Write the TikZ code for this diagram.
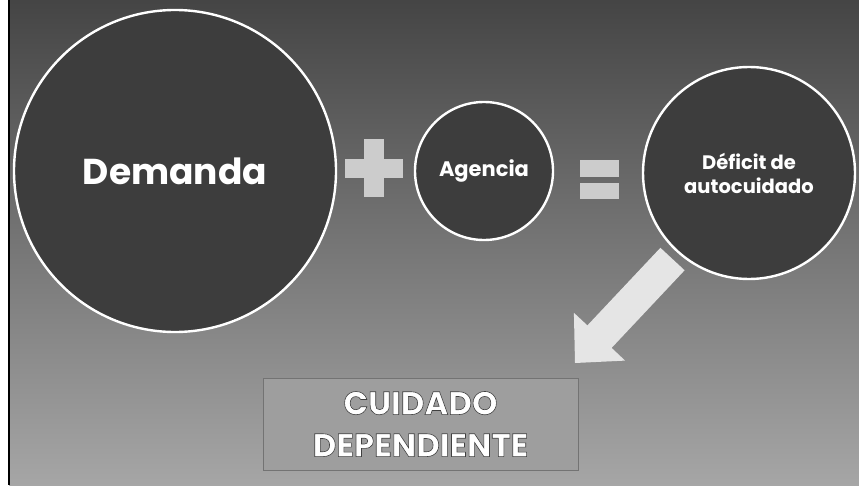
\documentclass[tikz,border=0pt]{standalone}
\usepackage{fontspec}
\setmainfont{Poppins}
\newcommand{\outlinedtext}[1]{\special{pdf:literal 2 Tr 0.25 G 0.6 w}#1\special{pdf:literal 0 Tr}}
\begin{document}
\begin{tikzpicture}[x=1pt,y=-1pt,
  bubble/.style={circle,draw=white,line width=2.4pt,fill=black!76,inner sep=0pt,minimum size=#1,text=white,align=center},
  symb/.style={fill=black!20,draw=none},
  outcome/.style={draw=black!55,line width=0.8pt,fill=black!38,minimum width=315pt,minimum height=92pt,inner sep=0pt,text=white,align=center},
  bigarrow/.style={fill=black!10,draw=none}]
\useasboundingbox (0,0) rectangle (859,487);
\fill[white] (0,0) rectangle (859,487);
\shade[top color=black!73,bottom color=black!35] (9,0) rectangle (859,485);
\draw[black,line width=1.6pt] (9,0) -- (9,485);
% circles
\node[bubble=322pt,font=\fontsize{36}{40}\selectfont\bfseries] (dem) at (175,171) {Demanda};
\node[bubble=138pt,font=\fontsize{21}{24}\selectfont\bfseries] (age) at (484,171) {Agencia};
\node[bubble=212pt,font=\fontsize{19.5}{24}\selectfont\bfseries] (def) at (749,173) {Déficit de\\autocuidado};
% plus sign
\fill[symb] (345,159) rectangle (403,178);
\fill[symb] (364,139) rectangle (384,197);
% equals sign
\fill[symb] (580,160) rectangle (619,177);
\fill[symb] (580,183) rectangle (619,199);
% arrow
\coordinate (tip) at (575,363);
\coordinate (w1) at (625.1,360.6);
\coordinate (j1) at (611.6,347.9);
\coordinate (t1) at (684.6,270.3);
\coordinate (t2) at (660.4,247.8);
\coordinate (j2) at (587.4,325.4);
\coordinate (w2) at (573.9,312.8);
\fill[bigarrow] (tip) -- (w1) -- (j1) -- (t1) -- (t2) -- (j2) -- (w2) -- cycle;
% outcome box
\node[outcome,font=\fontsize{32.5}{42}\selectfont\bfseries] (cd) at (420.5,424) {\outlinedtext{CUIDADO}\\\outlinedtext{DEPENDIENTE}};
\end{tikzpicture}
\end{document}
